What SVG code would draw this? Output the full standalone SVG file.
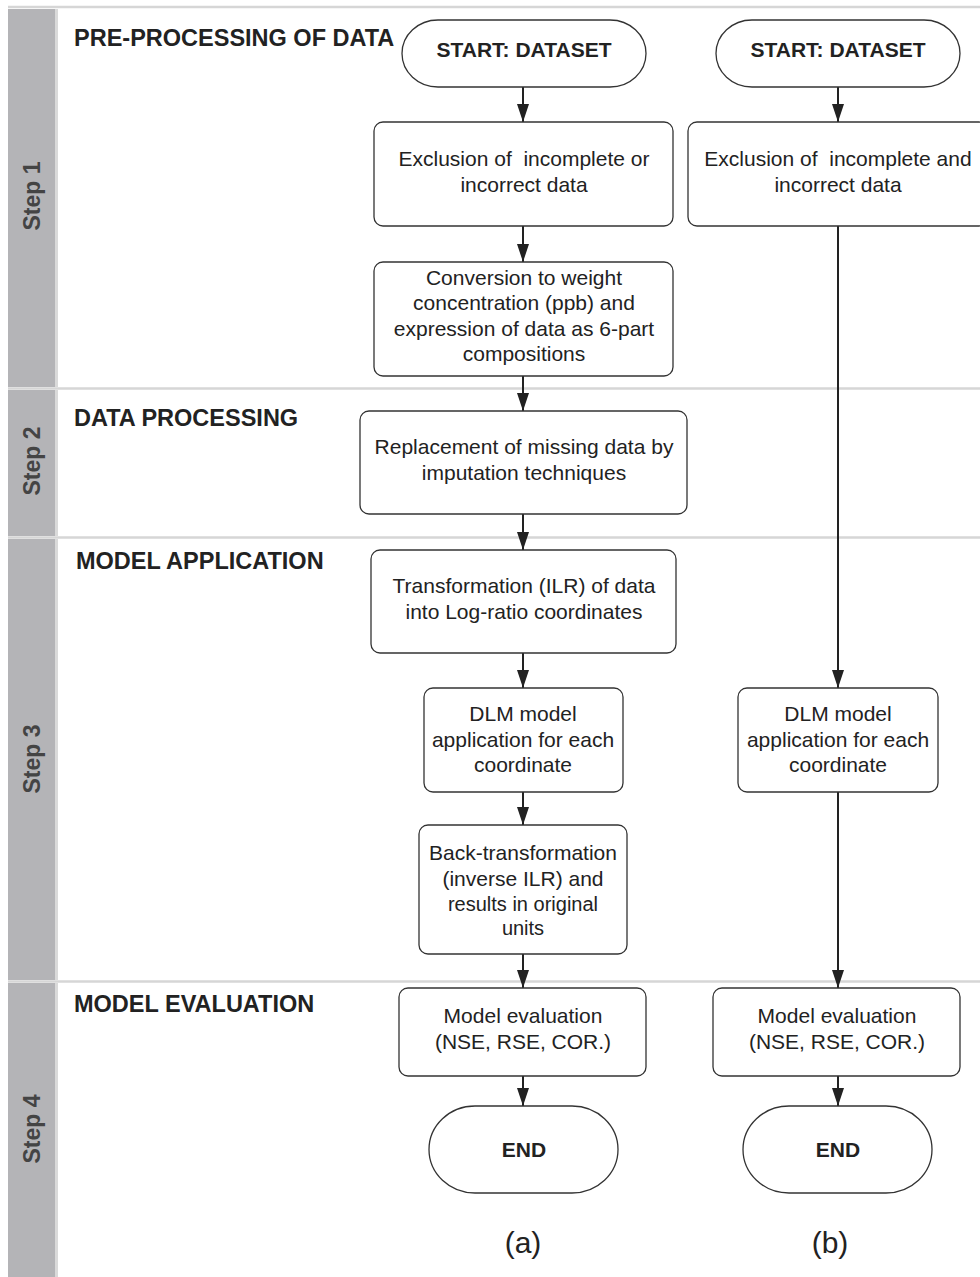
<svg xmlns="http://www.w3.org/2000/svg" width="980" height="1277" viewBox="0 0 980 1277">
<style>
.bg{fill:#ffffff}
.sep{stroke:#d6d6d6;stroke-width:2.5}
.side{fill:#b4b4b7}
.sideedge{fill:#dadada}
.step{font-family:"Liberation Sans",Arial,sans-serif;font-size:23px;font-weight:bold;fill:#444;text-anchor:middle}
.hdr{font-family:"Liberation Sans",Arial,sans-serif;font-size:23.5px;font-weight:bold;fill:#222}
.box{fill:#fff;stroke:#333;stroke-width:1.3}
.t{font-family:"Liberation Sans",Arial,sans-serif;font-size:21px;fill:#222;text-anchor:middle;white-space:pre}
.tb{font-family:"Liberation Sans",Arial,sans-serif;font-size:21px;font-weight:bold;fill:#222;text-anchor:middle}
.lab{font-family:"Liberation Sans",Arial,sans-serif;font-size:30px;fill:#222;text-anchor:middle}
.c{stroke:#222;stroke-width:2;fill:none}
</style>
<defs>
<marker id="ah" markerWidth="18" markerHeight="12" refX="18" refY="6" orient="auto" markerUnits="userSpaceOnUse" viewBox="0 0 18 12">
<path d="M0,0 L18,6 L0,12 Z" fill="#222"/>
</marker>
</defs>
<rect class="bg" x="0" y="0" width="980" height="1277"/>
<g id="lanes">
<line class="sep" x1="8" y1="7" x2="980" y2="7"/>
<line class="sep" x1="8" y1="388.5" x2="980" y2="388.5"/>
<line class="sep" x1="8" y1="537.5" x2="980" y2="537.5"/>
<line class="sep" x1="8" y1="981.5" x2="980" y2="981.5"/>
<rect class="side" x="8" y="9" width="47" height="378"/>
<rect class="sideedge" x="55" y="9" width="3" height="378"/>
<rect class="side" x="8" y="390" width="47" height="146"/>
<rect class="sideedge" x="55" y="390" width="3" height="146"/>
<rect class="side" x="8" y="539" width="47" height="441"/>
<rect class="sideedge" x="55" y="539" width="3" height="441"/>
<rect class="side" x="8" y="983" width="47" height="294"/>
<rect class="sideedge" x="55" y="983" width="3" height="294"/>
<text class="step" transform="translate(40,196) rotate(-90)">Step 1</text>
<text class="step" transform="translate(40,461) rotate(-90)">Step 2</text>
<text class="step" transform="translate(40,759) rotate(-90)">Step 3</text>
<text class="step" transform="translate(40,1129) rotate(-90)">Step 4</text>
<text class="hdr" x="74" y="46">PRE-PROCESSING OF DATA</text>
<text class="hdr" x="74" y="426">DATA PROCESSING</text>
<text class="hdr" x="76" y="569">MODEL APPLICATION</text>
<text class="hdr" x="74" y="1012">MODEL EVALUATION</text>
</g>
<g id="connectors">
<line class="c" x1="523" y1="87" x2="523" y2="122" marker-end="url(#ah)"/>
<line class="c" x1="523" y1="226" x2="523" y2="262" marker-end="url(#ah)"/>
<line class="c" x1="523" y1="376" x2="523" y2="411" marker-end="url(#ah)"/>
<line class="c" x1="523" y1="514" x2="523" y2="550" marker-end="url(#ah)"/>
<line class="c" x1="523" y1="653" x2="523" y2="688" marker-end="url(#ah)"/>
<line class="c" x1="523" y1="792" x2="523" y2="825" marker-end="url(#ah)"/>
<line class="c" x1="523" y1="954" x2="523" y2="988" marker-end="url(#ah)"/>
<line class="c" x1="523" y1="1076" x2="523" y2="1106" marker-end="url(#ah)"/>
<line class="c" x1="838" y1="87" x2="838" y2="122" marker-end="url(#ah)"/>
<line class="c" x1="838" y1="226" x2="838" y2="688" marker-end="url(#ah)"/>
<line class="c" x1="838" y1="792" x2="838" y2="988" marker-end="url(#ah)"/>
<line class="c" x1="838" y1="1076" x2="838" y2="1106" marker-end="url(#ah)"/>
</g>
<g id="start-a"><rect class="box" x="402" y="20" width="244" height="67" rx="36" ry="33.5"/><text class="tb" x="524" y="57">START: DATASET</text></g>
<g id="start-b"><rect class="box" x="716" y="20" width="244" height="67" rx="36" ry="33.5"/><text class="tb" x="838" y="57">START: DATASET</text></g>
<g id="excl-a"><rect class="box" x="374" y="122" width="299" height="104" rx="9"/><text class="t" x="524" y="166" xml:space="preserve">Exclusion of  incomplete or</text><text class="t" x="524" y="192">incorrect data</text></g>
<g id="excl-b"><rect class="box" x="688" y="122" width="300" height="104" rx="9"/><text class="t" x="838" y="166" xml:space="preserve">Exclusion of  incomplete and</text><text class="t" x="838" y="192">incorrect data</text></g>
<g id="conv-a"><rect class="box" x="374" y="262" width="299" height="114" rx="9"/><text class="t" x="524" y="285">Conversion to weight</text><text class="t" x="524" y="310">concentration (ppb) and</text><text class="t" x="524" y="336">expression of data as 6-part</text><text class="t" x="524" y="361">compositions</text></g>
<g id="repl-a"><rect class="box" x="360" y="411" width="327" height="103" rx="9"/><text class="t" x="524" y="454">Replacement of missing data by</text><text class="t" x="524" y="480">imputation techniques</text></g>
<g id="trans-a"><rect class="box" x="371" y="550" width="305" height="103" rx="9"/><text class="t" x="524" y="593">Transformation (ILR) of data</text><text class="t" x="524" y="619">into Log-ratio coordinates</text></g>
<g id="dlm-a"><rect class="box" x="424" y="688" width="199" height="104" rx="9"/><text class="t" x="523" y="721">DLM model</text><text class="t" x="523" y="747">application for each</text><text class="t" x="523" y="772">coordinate</text></g>
<g id="dlm-b"><rect class="box" x="738" y="688" width="200" height="104" rx="9"/><text class="t" x="838" y="721">DLM model</text><text class="t" x="838" y="747">application for each</text><text class="t" x="838" y="772">coordinate</text></g>
<g id="back-a"><rect class="box" x="419" y="825" width="208" height="129" rx="9"/><text class="t" x="523" y="860">Back-transformation</text><text class="t" x="523" y="886">(inverse ILR) and</text><text class="t" x="523" y="911" style="font-size:20px">results in original</text><text class="t" x="523" y="935" style="font-size:20px">units</text></g>
<g id="eval-a"><rect class="box" x="399" y="988" width="247" height="88" rx="9"/><text class="t" x="523" y="1023">Model evaluation</text><text class="t" x="523" y="1049">(NSE, RSE, COR.)</text></g>
<g id="eval-b"><rect class="box" x="713" y="988" width="247" height="88" rx="9"/><text class="t" x="837" y="1023">Model evaluation</text><text class="t" x="837" y="1049">(NSE, RSE, COR.)</text></g>
<g id="end-a"><rect class="box" x="429" y="1106" width="189" height="87" rx="46" ry="43.5"/><text class="tb" x="524" y="1157">END</text></g>
<g id="end-b"><rect class="box" x="743" y="1106" width="189" height="87" rx="46" ry="43.5"/><text class="tb" x="838" y="1157">END</text></g>
<g id="labels"><text class="lab" x="523" y="1253">(a)</text><text class="lab" x="830" y="1253">(b)</text></g>
</svg>
